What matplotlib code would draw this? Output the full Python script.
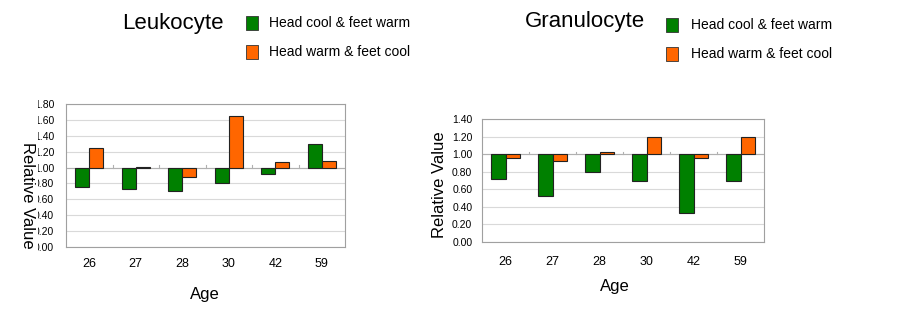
import matplotlib
matplotlib.use('Agg')

import matplotlib.pyplot as plt
from matplotlib.patches import Rectangle
from matplotlib.transforms import Bbox, TransformedBbox
import numpy as np

plt.rcParams['font.family'] = ['Liberation Sans', 'DejaVu Sans']

ages = ["26", "27", "28", "30", "42", "59"]
series_names = ["Head cool & feet warm", "Head warm & feet cool"]

leuko_cool_head = [0.76, 0.73, 0.71, 0.81, 0.92, 1.30]
leuko_warm_head = [1.24, 1.01, 0.88, 1.65, 1.07, 1.08]

granu_cool_head = [0.72, 0.52, 0.80, 0.70, 0.33, 0.70]
granu_warm_head = [0.96, 0.92, 1.02, 1.20, 0.96, 1.20]

GREEN = '#008000'
ORANGE = '#FF6600'
W, H = 902, 310

fig = plt.figure(figsize=(W / 100, H / 100), dpi=100, facecolor='white')


def px_axes(x0, y0, x1, y1):
    return fig.add_axes([x0 / W, (H - y1) / H, (x1 - x0) / W, (y1 - y0) / H])


def draw_chart(ax, green_vals, orange_vals, ymax, tick_pad, xlab_pad):
    x = np.arange(len(ages))
    w = 0.3
    g = np.array(green_vals)
    o = np.array(orange_vals)
    ax.bar(x - w / 2, g - 1, bottom=1, width=w, color=GREEN,
           edgecolor='#222222', linewidth=0.8, zorder=3)
    ax.bar(x + w / 2, o - 1, bottom=1, width=w, color=ORANGE,
           edgecolor='#222222', linewidth=0.8, zorder=3)
    ax.axhline(1.0, color='#b0b0b0', lw=0.8, zorder=2)
    # category dividers on the 1.0 axis line
    for b in np.arange(0.5, len(ages) - 0.5, 1):
        ax.plot([b, b], [1.0, 1.0 + ymax * 0.02], color='#b0b0b0', lw=0.8, zorder=2)
    ax.set_xlim(-0.5, len(ages) - 0.5)
    ax.set_ylim(0, ymax)
    ax.set_yticks(np.arange(0, ymax + 0.001, 0.2))
    ax.set_yticklabels([f"{v:.2f}" for v in np.arange(0, ymax + 0.001, 0.2)])
    ax.yaxis.grid(True, color='#d9d9d9', lw=0.8, zorder=0)
    ax.set_axisbelow(True)
    ax.set_xticks(x)
    ax.set_xticklabels(ages)
    ax.tick_params(axis='y', length=0, labelsize=7.5, pad=tick_pad)
    ax.tick_params(axis='x', length=0, labelsize=9, pad=xlab_pad)
    for s in ax.spines.values():
        s.set_color('#a0a0a0')
        s.set_linewidth(0.8)


# ---- Leukocyte ----
ax1 = px_axes(66, 104, 345, 247)
draw_chart(ax1, leuko_cool_head, leuko_warm_head, 1.8, 8.5, 8)
# the original chart image was cropped: left part of the y tick labels is cut off
clip = TransformedBbox(Bbox([[38 / W, 0], [1, 1]]), fig.transFigure)
for lab in ax1.get_yticklabels():
    lab.set_clip_box(clip)
    lab.set_clip_on(True)
fig.text(205 / W, 1 - 295 / H, "Age", fontsize=12, ha='center', va='center')
fig.text(27.5 / W, 1 - 195 / H, "Relative Value", fontsize=12, rotation=270,
         ha='center', va='center')
fig.text(122 / W, 1 - 23 / H, "Leukocyte", fontsize=16, ha='left', va='center')

# ---- Granulocyte ----
ax2 = px_axes(482, 119, 764, 242)
draw_chart(ax2, granu_cool_head, granu_warm_head, 1.4, 7, 10)
fig.text(615 / W, 1 - 287 / H, "Age", fontsize=12, ha='center', va='center')
fig.text(440 / W, 1 - 185 / H, "Relative Value", fontsize=12, rotation=90,
         ha='center', va='center')
fig.text(525 / W, 1 - 22 / H, "Granulocyte", fontsize=16, ha='left', va='center')

# ---- legends ----
for (sx, tx, y0) in [(246, 269, 23), (666, 691, 25)]:
    for i, (name, col) in enumerate(zip(series_names, [GREEN, ORANGE])):
        yc = y0 + i * 29
        fig.patches.append(Rectangle((sx / W, 1 - (yc + 6.5) / H), 12 / W, 13 / H,
                                     transform=fig.transFigure, facecolor=col,
                                     edgecolor='#333333', lw=0.6))
        fig.text(tx / W, 1 - yc / H, name, fontsize=10, ha='left', va='center')

fig.savefig('out.png', dpi=100, facecolor='white')
